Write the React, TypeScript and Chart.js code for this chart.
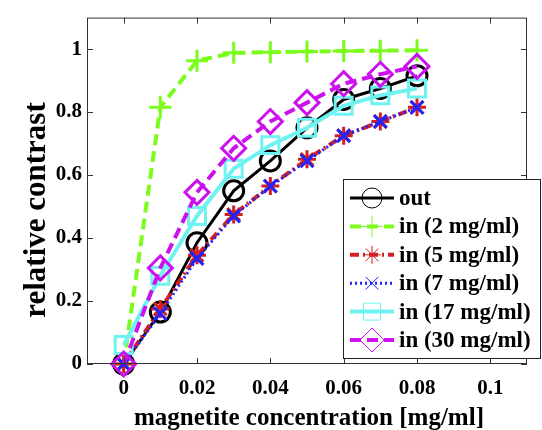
import React, { useEffect, useRef } from "react";
import { Chart, registerables } from "chart.js";

Chart.register(...registerables);

const CONC = [0, 0.01, 0.02, 0.03, 0.04, 0.05, 0.06, 0.07, 0.08];
const OUT = [0, 0.165, 0.385, 0.55, 0.645, 0.75, 0.84, 0.875, 0.915];
const IN2 = [0, 0.815, 0.963, 0.988, 0.99, 0.992, 0.994, 0.995, 0.996];
const IN5 = [0, 0.175, 0.345, 0.475, 0.565, 0.65, 0.725, 0.77, 0.815];
const IN7 = [0, 0.16, 0.335, 0.47, 0.565, 0.645, 0.725, 0.77, 0.815];
const IN17 = [0.06, 0.28, 0.47, 0.62, 0.695, 0.75, 0.82, 0.853, 0.875];
const IN30 = [0, 0.305, 0.545, 0.685, 0.77, 0.83, 0.89, 0.92, 0.945];

const LABELS = ["out", "in (2 mg/ml)", "in (5 mg/ml)", "in (7 mg/ml)", "in (17 mg/ml)", "in (30 mg/ml)"];
const X_TICKS = [0, 0.02, 0.04, 0.06, 0.08, 0.1];
const Y_TICKS = [0, 0.2, 0.4, 0.6, 0.8, 1];
const X_TITLE = "magnetite concentration [mg/ml]";
const Y_TITLE = "relative contrast";

const FONT = "'Liberation Serif', 'Times New Roman', serif";

type Style = {
  color: string;
  width: number;
  dash: number[];
  point: string;
  radius: number;
};

const STYLES: Style[] = [
  { color: "#000000", width: 3, dash: [], point: "circle", radius: 10 },
  { color: "#7CFC1C", width: 4, dash: [11, 6], point: "cross", radius: 11 },
  { color: "#D42020", width: 4, dash: [9, 4, 2, 4], point: "star", radius: 9 },
  { color: "#2222FF", width: 3, dash: [2, 3], point: "crossRot", radius: 9 },
  { color: "#6FF2F2", width: 4, dash: [], point: "rect", radius: 12 },
  { color: "#CC11EE", width: 4, dash: [11, 6], point: "rectRot", radius: 12 },
];

const SERIES = [OUT, IN2, IN5, IN7, IN17, IN30];

function drawMarker(ctx: CanvasRenderingContext2D, kind: string, x: number, y: number, r: number) {
  ctx.beginPath();
  if (kind === "circle") {
    ctx.arc(x, y, r, 0, Math.PI * 2);
  } else if (kind === "cross") {
    ctx.moveTo(x - r, y); ctx.lineTo(x + r, y);
    ctx.moveTo(x, y - r); ctx.lineTo(x, y + r);
  } else if (kind === "crossRot") {
    const d = r * 0.7071;
    ctx.moveTo(x - d, y - d); ctx.lineTo(x + d, y + d);
    ctx.moveTo(x - d, y + d); ctx.lineTo(x + d, y - d);
  } else if (kind === "star") {
    const d = r * 0.7071;
    ctx.moveTo(x - r, y); ctx.lineTo(x + r, y);
    ctx.moveTo(x, y - r); ctx.lineTo(x, y + r);
    ctx.moveTo(x - d, y - d); ctx.lineTo(x + d, y + d);
    ctx.moveTo(x - d, y + d); ctx.lineTo(x + d, y - d);
  } else if (kind === "rect") {
    const s = r * 0.7071;
    ctx.rect(x - s, y - s, 2 * s, 2 * s);
  } else if (kind === "rectRot") {
    ctx.moveTo(x, y - r); ctx.lineTo(x + r, y); ctx.lineTo(x, y + r); ctx.lineTo(x - r, y); ctx.closePath();
  }
  ctx.stroke();
}

const framePlugin = {
  id: "frame",
  afterDraw(chart: any) {
    const ctx: CanvasRenderingContext2D = chart.ctx;
    const a = chart.chartArea;
    const xs = chart.scales.x;
    const ys = chart.scales.y;
    ctx.save();
    ctx.strokeStyle = "#333333";
    ctx.lineWidth = 1;
    ctx.setLineDash([]);
    ctx.strokeRect(a.left + 0.5, a.top + 0.5, a.right - a.left - 1, a.bottom - a.top - 1);
    const tl = 6;
    ctx.beginPath();
    X_TICKS.forEach((v) => {
      const px = Math.round(xs.getPixelForValue(v)) + 0.5;
      ctx.moveTo(px, a.bottom); ctx.lineTo(px, a.bottom - tl);
      ctx.moveTo(px, a.top); ctx.lineTo(px, a.top + tl);
    });
    Y_TICKS.forEach((v) => {
      const py = Math.round(ys.getPixelForValue(v)) + 0.5;
      ctx.moveTo(a.left, py); ctx.lineTo(a.left + tl, py);
      ctx.moveTo(a.right, py); ctx.lineTo(a.right - tl, py);
    });
    ctx.stroke();

    // axis titles
    ctx.fillStyle = "#000";
    ctx.font = `bold 25px ${FONT}`;
    ctx.textAlign = "center";
    ctx.textBaseline = "alphabetic";
    ctx.fillText(X_TITLE, 309, 425);
    ctx.save();
    ctx.translate(45, 210);
    ctx.rotate(-Math.PI / 2);
    ctx.font = `bold 31px ${FONT}`;
    ctx.fillText(Y_TITLE, 0, 0);
    ctx.restore();

    // legend
    const lx = 343, ly = 179, lw = 198, lh = 180;
    ctx.fillStyle = "#ffffff";
    ctx.fillRect(lx, ly, lw, lh);
    ctx.strokeStyle = "#222";
    ctx.lineWidth = 1;
    ctx.strokeRect(lx + 0.5, ly + 0.5, lw - 1, lh - 1);
    ctx.font = `bold 23px ${FONT}`;
    ctx.textAlign = "left";
    ctx.textBaseline = "middle";
    LABELS.forEach((lab, i) => {
      const st = STYLES[i];
      const y = 198 + i * 28.4;
      ctx.strokeStyle = st.color;
      ctx.lineWidth = st.width;
      ctx.setLineDash(st.dash);
      ctx.beginPath();
      ctx.moveTo(350, y); ctx.lineTo(394, y);
      ctx.stroke();
      ctx.setLineDash([]);
      ctx.lineWidth = 1;
      drawMarker(ctx, st.point, 372, y, st.radius);
      ctx.fillStyle = "#000";
      ctx.fillText(lab, 399, y + 1);
    });
    ctx.restore();
  },
};

export default function App() {
  const ref = useRef<HTMLCanvasElement | null>(null);
  useEffect(() => {
    if (!ref.current) return;
    const datasets = SERIES.map((vals, i) => {
      const st = STYLES[i];
      return {
        label: LABELS[i],
        data: CONC.map((c, j) => ({ x: c, y: vals[j] })),
        borderColor: st.color,
        backgroundColor: "rgba(0,0,0,0)",
        borderWidth: st.width,
        borderDash: st.dash,
        pointStyle: st.point,
        pointRadius: st.radius,
        pointBorderWidth: 3,
        pointBorderColor: st.color,
        pointBackgroundColor: "rgba(0,0,0,0)",
        tension: 0,
        order: SERIES.length - i,
        clip: false as any,
      };
    });
    const chart = new Chart(ref.current, {
      type: "line",
      data: { datasets },
      plugins: [framePlugin],
      options: {
        animation: false,
        responsive: false,
        devicePixelRatio: 1,
        layout: { padding: { top: 11, right: 1, left: 0, bottom: 0 } },
        plugins: { legend: { display: false }, tooltip: { enabled: false } },
        scales: {
          x: {
            type: "linear",
            min: -0.01,
            max: 0.11,
            grid: { display: false, drawTicks: false },
            border: { display: false },
            afterBuildTicks: (s: any) => { s.ticks = X_TICKS.map((v) => ({ value: v })); },
            afterFit: (s: any) => { s.height = 66; },
            ticks: {
              color: "#000",
              font: { family: FONT, size: 21, weight: "bold" },
              padding: 12,
              maxRotation: 0,
              callback: (v: any) => String(Number(Number(v).toFixed(2))),
            },
          },
          y: {
            type: "linear",
            min: 0,
            max: 1.1,
            grid: { display: false, drawTicks: false },
            border: { display: false },
            afterBuildTicks: (s: any) => { s.ticks = Y_TICKS.map((v) => ({ value: v })); },
            afterFit: (s: any) => { s.width = 87; },
            ticks: {
              color: "#000",
              font: { family: FONT, size: 21, weight: "bold" },
              padding: 5,
              callback: (v: any) => String(Number(Number(v).toFixed(2))),
            },
          },
        },
      } as any,
    });
    return () => chart.destroy();
  }, []);
  return (
    <div style={{ position: "absolute", left: 0, top: 0, width: 542, height: 430, background: "#fff" }}>
      <canvas ref={ref} width={542} height={430} style={{ width: 542, height: 430 }} />
    </div>
  );
}
